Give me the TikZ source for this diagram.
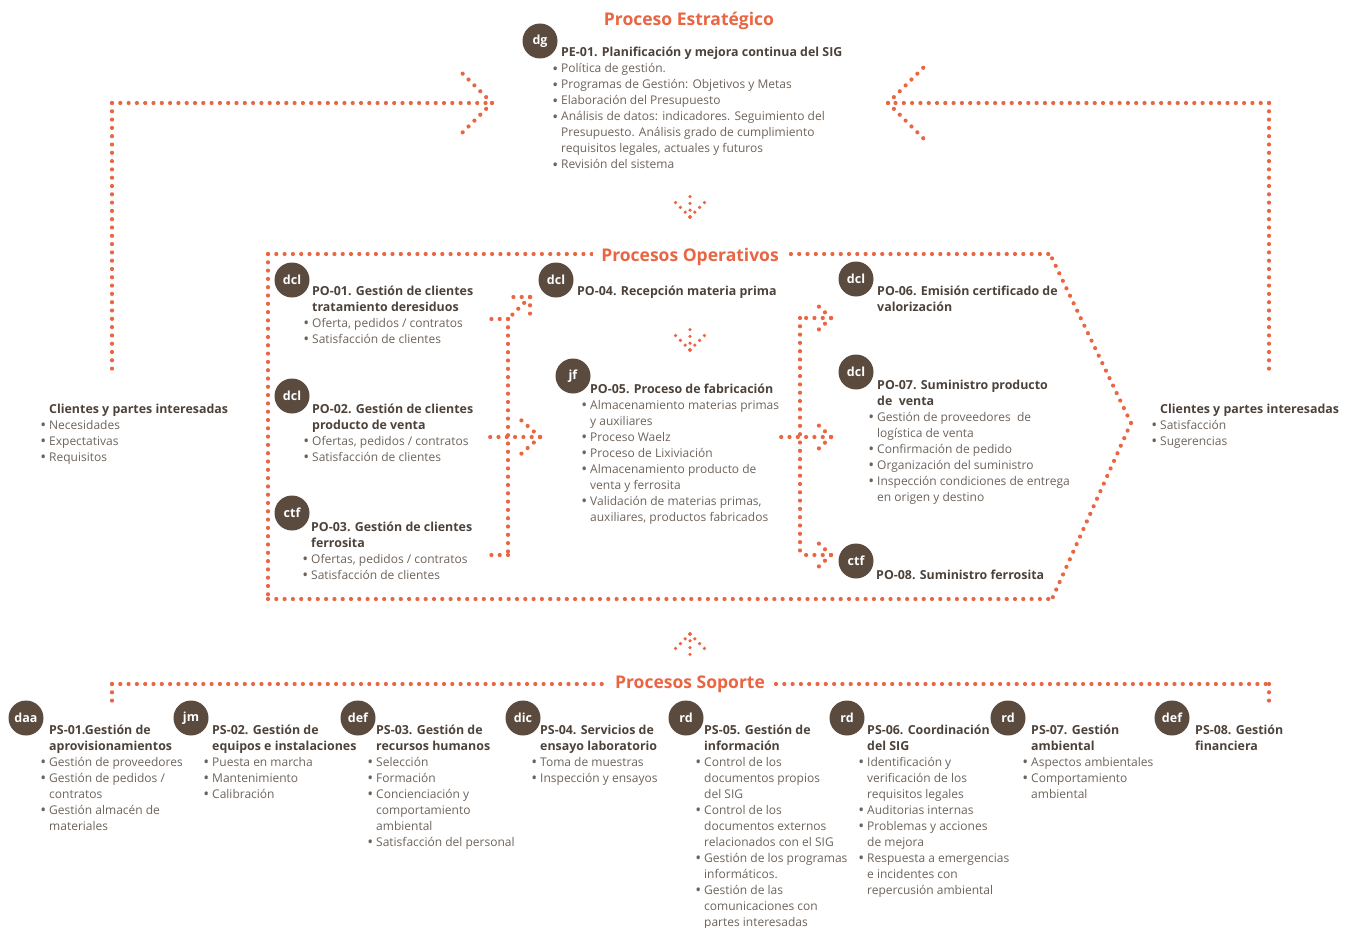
\documentclass[tikz,border=0pt]{standalone}
\usepackage{fontspec}
\setmainfont{Open Sans}
\definecolor{orng}{HTML}{EA6542}
\definecolor{brc}{HTML}{5A4B3E}
\definecolor{tdk}{HTML}{4D423A}
\definecolor{tlt}{HTML}{6E635A}
\newcommand\hd{\fontsize{12.4}{16}\selectfont\bfseries\color{tdk}}
\newcommand\bu{\makebox[0pt][r]{\raisebox{-1.3pt}{\scalebox{1.3}{\textbullet}}\hspace{3pt}}}
\newcommand\blk[4]{\foreach \t [count=\i from 0] in {#4}{\node[txt] (#1-\i) at (#2,{#3+16*\i}) {\t};}}
\begin{document}
\begin{tikzpicture}[x=1pt,y=-1pt,
  dotl/.style={draw=orng, line width=4.2pt, line cap=round, dash pattern=on 0pt off 8.3pt},
  dots/.style={draw=orng, line width=3.6pt, line cap=round, dash pattern=on 0pt off 6.8pt},
  badge/.style={circle, fill=brc, text=white, minimum size=35pt, inner sep=0pt, font=\fontsize{12.5}{12.5}\selectfont\bfseries},
  txt/.style={inner sep=0pt, anchor=base west, text=tlt, font=\fontsize{12}{16}\selectfont},
  ttl/.style={text=orng, font=\fontsize{17.5}{17.5}\selectfont\bfseries, fill=white, inner xsep=8pt, inner ysep=2pt}]
\useasboundingbox (0,0) rectangle (1356,928);

% ---------- connectors (dotted) ----------
\coordinate (lc) at (112,103); \coordinate (ltip) at (492,103);
\coordinate (rc) at (1269,103); \coordinate (rtip) at (888,103);
\draw[dotl] (lc) -- (ltip);
\draw[dotl] (lc) -- (112,370);
\draw[dotl] (ltip) -- (457,68);
\draw[dotl] (ltip) -- (457,138);
\draw[dotl] (rc) -- (rtip);
\draw[dotl] (rc) -- (1269,370);
\draw[dotl] (rtip) -- (924,67);
\draw[dotl] (rtip) -- (924,139);

% small chevrons
\coordinate (d1) at (690,217);
\draw[dots] (d1) -- (690,195); \draw[dots] (d1) -- (673,200); \draw[dots] (d1) -- (707,200);
\coordinate (d2) at (690,350);
\draw[dots] (d2) -- (690,327); \draw[dots] (d2) -- (674,334); \draw[dots] (d2) -- (706,334);
\coordinate (u1) at (690,634);
\draw[dots] (u1) -- (690,657); \draw[dots] (u1) -- (674,650); \draw[dots] (u1) -- (706,650);

% operative frame
\coordinate (ftl) at (268,254); \coordinate (ftr) at (1050,254);
\coordinate (fbl) at (268,599); \coordinate (fbr) at (1052,599);
\coordinate (fp) at (1131,423);
\draw[dotl] (ftl) -- (ftr);
\draw[dotl] (ftl) -- (fbl);
\draw[dotl] (fbl) -- (fbr);
\draw[dotl] (fp) -- (ftr);
\draw[dotl] (fp) -- (fbr);

% left internal connectors
\coordinate (lv1) at (508,319); \coordinate (lv2) at (508,555);
\draw[dotl] (lv1) -- (lv2);
\draw[dotl] (lv1) -- (484,319);
\draw[dotl] (lv2) -- (484,555);
\coordinate (mt) at (540,437);
\draw[dotl] (mt) -- (484,437);
\draw[dotl] (mt) -- (521,420); \draw[dotl] (mt) -- (521,454);
\coordinate (dt) at (530,297);
\draw[dotl] (dt) -- (lv1); \draw[dotl] (dt) -- (507,297); \draw[dotl] (dt) -- (530,320);

% right internal connectors
\coordinate (rv1) at (800,318); \coordinate (rv2) at (800,555);
\draw[dotl] (rv1) -- (rv2);
\coordinate (a1) at (831,318); \coordinate (a2) at (831,437); \coordinate (a3) at (831,555);
\draw[dotl] (a1) -- (rv1); \draw[dotl] (a1) -- (813,301); \draw[dotl] (a1) -- (813,335);
\draw[dotl] (a2) -- (777,437); \draw[dotl] (a2) -- (813,420); \draw[dotl] (a2) -- (813,454);
\draw[dotl] (a3) -- (rv2); \draw[dotl] (a3) -- (813,538); \draw[dotl] (a3) -- (813,572);

% support line
\coordinate (sl) at (112,684); \coordinate (sr) at (1269,684);
\draw[dotl] (sl) -- (sr);
\draw[dotl] (sl) -- (112,708);
\draw[dotl] (sr) -- (1269,708);

% ---------- titles ----------
\node[ttl] (t-pe) at (689,21) {Proceso Estratégico};
\node[ttl] (t-po) at (690,256.5) {Procesos Operativos};
\node[ttl] (t-ps) at (690,684) {Procesos Soporte};

% ---------- badges ----------
\node[badge] (b-dg) at (540,41) {dg};
\node[badge] (b-po1) at (292,280) {dcl};
\node[badge] (b-po2) at (292,396) {dcl};
\node[badge] (b-po3) at (292,513) {ctf};
\node[badge] (b-po4) at (556,280) {dcl};
\node[badge] (b-po5) at (573,376) {jf};
\node[badge] (b-po6) at (856,279) {dcl};
\node[badge] (b-po7) at (856,372) {dcl};
\node[badge] (b-po8) at (856,561) {ctf};
\node[badge] (b-ps1) at (26,718) {daa};
\node[badge] (b-ps2) at (191,718) {jm};
\node[badge] (b-ps3) at (358,718) {def};
\node[badge] (b-ps4) at (523,718) {dic};
\node[badge] (b-ps5) at (686,718) {rd};
\node[badge] (b-ps6) at (847,718) {rd};
\node[badge] (b-ps7) at (1008,718) {rd};
\node[badge] (b-ps8) at (1172,718) {def};

% ---------- text blocks ----------
\blk{pe}{561}{57}{{\hd PE-01. Planificación y mejora continua del SIG},
 \bu Política de gestión.,
 {\bu Programas de Gestión: Objetivos y Metas},
 \bu Elaboración del Presupuesto,
 {\bu Análisis de datos: indicadores. Seguimiento del},
 {Presupuesto. Análisis grado de cumplimiento},
 {requisitos legales, actuales y futuros},
 \bu Revisión del sistema}

\blk{cl}{49}{413}{{\hd Clientes y partes interesadas}, \bu Necesidades, \bu Expectativas, \bu Requisitos}
\blk{cr}{1160}{413}{{\hd Clientes y partes interesadas}, \bu Satisfacción, \bu Sugerencias}

\blk{po1}{312}{295}{{\hd PO-01. Gestión de clientes}, {\hd tratamiento deresiduos}, {\bu Oferta, pedidos / contratos}, \bu Satisfacción de clientes}
\blk{po2}{312}{413}{{\hd PO-02. Gestión de clientes}, {\hd producto de venta}, {\bu Ofertas, pedidos / contratos}, \bu Satisfacción de clientes}
\blk{po3}{311}{531}{{\hd PO-03. Gestión de clientes}, {\hd ferrosita}, {\bu Ofertas, pedidos / contratos}, \bu Satisfacción de clientes}
\blk{po4}{577}{295}{{\hd PO-04. Recepción materia prima}}
\blk{po5}{590}{393}{{\hd PO-05. Proceso de fabricación}, \bu Almacenamiento materias primas, y auxiliares, \bu Proceso Waelz, \bu Proceso de Lixiviación, \bu Almacenamiento producto de, venta y ferrosita, {\bu Validación de materias primas,}, {auxiliares, productos fabricados}}
\blk{po6}{877}{295}{{\hd PO-06. Emisión certificado de}, {\hd valorización}}
\blk{po7}{877}{389}{{\hd PO-07. Suministro producto}, {\hd de\ \ venta}, {\bu Gestión de proveedores\ \ de}, logística de venta, \bu Confirmación de pedido, \bu Organización del suministro, \bu Inspección condiciones de entrega, en origen y destino}
\blk{po8}{876}{579}{{\hd PO-08. Suministro ferrosita}}

\blk{ps1}{49}{734}{{\hd PS-01.Gestión de}, {\hd aprovisionamientos}, \bu Gestión de proveedores, {\bu Gestión de pedidos /}, contratos, \bu Gestión almacén de, materiales}
\blk{ps2}{212}{734}{{\hd PS-02. Gestión de}, {\hd equipos e instalaciones}, \bu Puesta en marcha, \bu Mantenimiento, \bu Calibración}
\blk{ps3}{376}{734}{{\hd PS-03. Gestión de}, {\hd recursos humanos}, \bu Selección, \bu Formación, \bu Concienciación y, comportamiento, ambiental, \bu Satisfacción del personal}
\blk{ps4}{540}{734}{{\hd PS-04. Servicios de}, {\hd ensayo laboratorio}, \bu Toma de muestras, \bu Inspección y ensayos}
\blk{ps5}{704}{734}{{\hd PS-05. Gestión de}, {\hd información}, \bu Control de los, documentos propios, del SIG, \bu Control de los, documentos externos, relacionados con el SIG, \bu Gestión de los programas, informáticos., \bu Gestión de las, comunicaciones con, partes interesadas}
\blk{ps6}{867}{734}{{\hd PS-06. Coordinación}, {\hd del SIG}, \bu Identificación y, verificación de los, requisitos legales, \bu Auditorias internas, \bu Problemas y acciones, de mejora, \bu Respuesta a emergencias, e incidentes con, repercusión ambiental}
\blk{ps7}{1031}{734}{{\hd PS-07. Gestión}, {\hd ambiental}, \bu Aspectos ambientales, \bu Comportamiento, ambiental}
\blk{ps8}{1195}{734}{{\hd PS-08. Gestión}, {\hd financiera}}
\end{tikzpicture}
\end{document}
